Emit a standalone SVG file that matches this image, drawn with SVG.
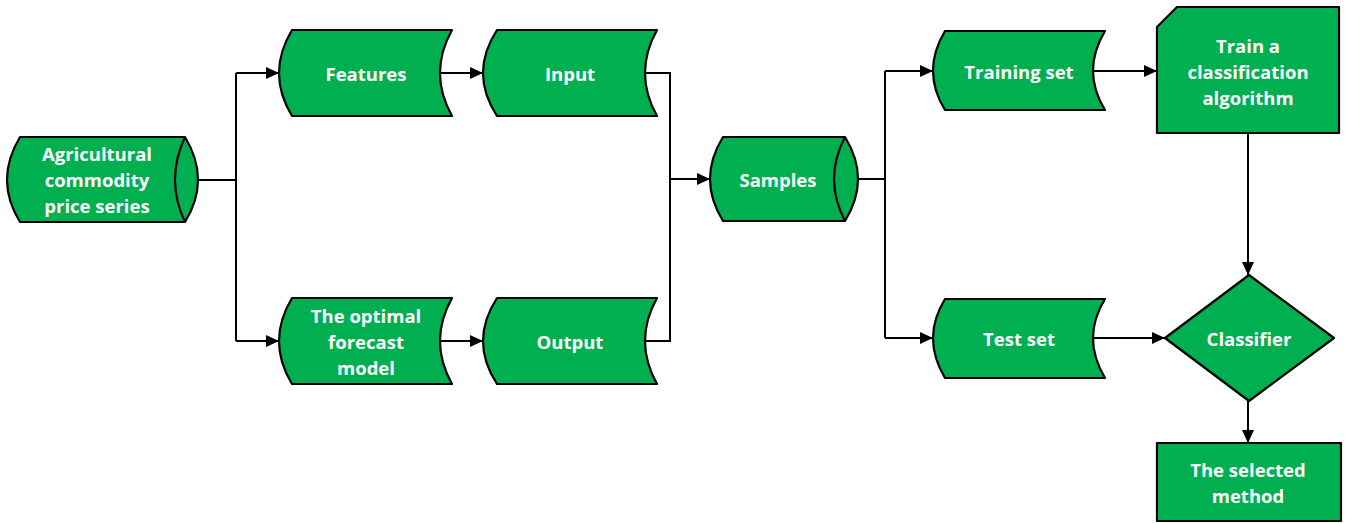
<svg xmlns="http://www.w3.org/2000/svg" width="1348" height="523" viewBox="0 0 1348 523">
<style>
.n{fill:#00B050;stroke:#000;stroke-width:2.2;stroke-linejoin:round}
.t{font-family:"Open Sans","Liberation Sans",sans-serif;font-weight:bold;font-size:18.5px;fill:#fff;text-anchor:middle;dominant-baseline:central}
.c{fill:none;stroke:#000;stroke-width:2}
</style>
<defs>
<marker id="a" markerUnits="userSpaceOnUse" markerWidth="14" markerHeight="12" refX="13" refY="6" orient="auto">
<path d="M0 0 L13 6 L0 12 Z" fill="#000"/>
</marker>
</defs>
<g id="connectors">
<path class="c" d="M198 180 H236"/>
<path class="c" d="M236 73 V341"/>
<path class="c" d="M236 73 H279" marker-end="url(#a)"/>
<path class="c" d="M236 341 H279" marker-end="url(#a)"/>
<path class="c" d="M440 73 H483" marker-end="url(#a)"/>
<path class="c" d="M440 341 H483" marker-end="url(#a)"/>
<path class="c" d="M645 73 H670 V341 H645"/>
<path class="c" d="M670 179 H710" marker-end="url(#a)"/>
<path class="c" d="M858 179 H885"/>
<path class="c" d="M885 71 V338"/>
<path class="c" d="M885 71 H933" marker-end="url(#a)"/>
<path class="c" d="M885 338 H933" marker-end="url(#a)"/>
<path class="c" d="M1093 71 H1157" marker-end="url(#a)"/>
<path class="c" d="M1093 338 H1165" marker-end="url(#a)"/>
<path class="c" d="M1248 133 V275" marker-end="url(#a)"/>
<path class="c" d="M1248 401 V443" marker-end="url(#a)"/>
</g>
<g id="agri">
<path class="n" d="M20 137 H185 Q211 180 185 222 H20 Q-6 180 20 137 Z"/>
<path class="n" d="M185 137 Q165 180 185 222"/>
<text class="t" x="97" y="153">Agricultural</text>
<text class="t" x="97" y="179">commodity</text>
<text class="t" x="97" y="205">price series</text>
</g>
<g id="features">
<path class="n" d="M292 30 H452 Q428 73 452 116 H292 Q266 73 292 30 Z"/>
<text class="t" x="366" y="73">Features</text>
</g>
<g id="input">
<path class="n" d="M497 30 H657 Q633 73 657 116 H497 Q469 73 497 30 Z"/>
<text class="t" x="570" y="73">Input</text>
</g>
<g id="optimal">
<path class="n" d="M292 298 H452 Q428 341 452 384 H292 Q266 341 292 298 Z"/>
<text class="t" x="366" y="315">The optimal</text>
<text class="t" x="366" y="341">forecast</text>
<text class="t" x="366" y="367">model</text>
</g>
<g id="output">
<path class="n" d="M497 298 H657 Q633 341 657 384 H497 Q469 341 497 298 Z"/>
<text class="t" x="570" y="341">Output</text>
</g>
<g id="samples">
<path class="n" d="M723 137 H845 Q871 179 845 221 H723 Q697 179 723 137 Z"/>
<path class="n" d="M845 137 Q823 179 845 221"/>
<text class="t" x="778" y="179">Samples</text>
</g>
<g id="training">
<path class="n" d="M945 31 H1105 Q1081 71 1105 110 H945 Q921 71 945 31 Z"/>
<text class="t" x="1019" y="71">Training set</text>
</g>
<g id="test">
<path class="n" d="M945 299 H1105 Q1081 338 1105 378 H945 Q921 338 945 299 Z"/>
<text class="t" x="1019" y="338">Test set</text>
</g>
<g id="train">
<path class="n" d="M1177 7 H1339 V133 H1157 V27 Z"/>
<text class="t" x="1248" y="45">Train a</text>
<text class="t" x="1248" y="71">classification</text>
<text class="t" x="1248" y="97">algorithm</text>
</g>
<g id="classifier">
<path class="n" d="M1249 275 L1334 338 L1249 401 L1165 338 Z"/>
<text class="t" x="1249" y="338">Classifier</text>
</g>
<g id="selected">
<path class="n" d="M1157 443 H1341 V521 H1157 Z"/>
<text class="t" x="1248" y="469">The selected</text>
<text class="t" x="1248" y="495">method</text>
</g>
</svg>
